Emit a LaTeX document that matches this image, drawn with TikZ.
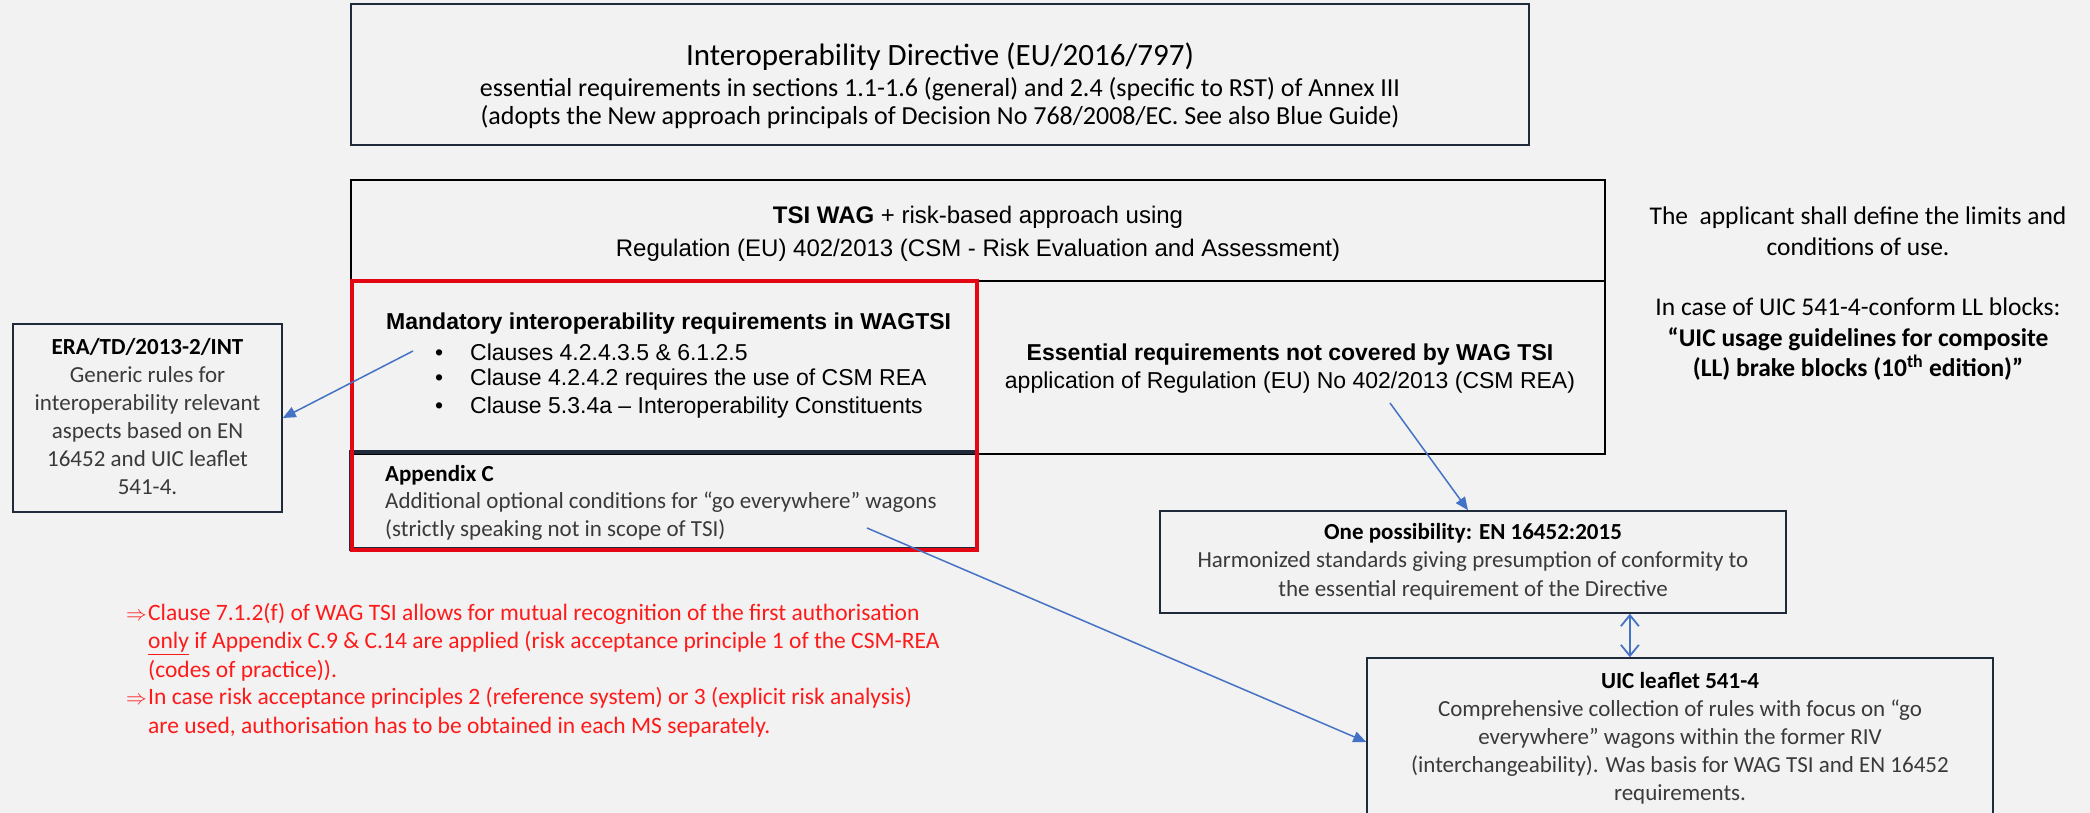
\documentclass[tikz,border=0pt]{standalone}
\usepackage{fontspec}
\setmainfont{Carlito}
\newfontfamily\arialfont{Liberation Sans}
\usetikzlibrary{arrows.meta,calc}
\definecolor{pagebg}{HTML}{F2F2F2}
\definecolor{boxline}{HTML}{1F2A3A}
\definecolor{bodygray}{HTML}{3A3A3A}
\definecolor{markred}{HTML}{E30613}
\definecolor{notered}{HTML}{FF1A1A}
\definecolor{linkblue}{HTML}{4472C4}
\newcommand{\fsz}[2]{\fontsize{#1}{#2}\selectfont}
\newcommand{\thenmark}{\makebox[22pt][l]{\fsz{21}{21}$\Rightarrow$}}
\begin{document}
\begin{tikzpicture}[x=1pt,y=-1pt,
  frame/.style={draw=boxline,line width=1.5pt,inner sep=0pt},
  txt/.style={inner sep=0pt,align=center,font=\fsz{23}{28}},
  link/.style={linkblue,line width=1.5pt,-{Triangle[length=13pt,width=11pt]}},
  twoway/.style={linkblue,line width=1.8pt,{Straight Barb[length=11pt,width=18pt]}-{Straight Barb[length=11pt,width=18pt]}}]
\useasboundingbox (0,0) rectangle (2090,813);
\fill[pagebg] (0,0) rectangle (2090,813);

\node[frame,line width=2pt,minimum width=1178,minimum height=141] (directive) at (940,74.5) {};
\node[txt,font=\fsz{31}{38}] (dirtitle) at (940,57) {Interoperability Directive (EU/2016/797)};
\node[txt,font=\fsz{26}{28}] (dirsub) at (940,103) {essential requirements in sections 1.1-1.6 (general) and 2.4 (specific to RST) of Annex III\\(adopts the New approach principals of Decision No 768/2008/EC. See also Blue Guide)};

\node[frame,draw=black,line width=2.5pt,minimum width=1254,minimum height=101] (tsihead) at (978,230.5) {};
\node[txt,font=\arialfont\fsz{24}{33}] (tsitext) at (978,234) {\textbf{TSI WAG} + risk-based approach using\\Regulation (EU) 402/2013 (CSM - Risk Evaluation and Assessment)};
\node[frame,draw=black,line width=1.2pt,minimum width=1254,minimum height=173] (tsilow) at (978,367.5) {};
\node[frame,line width=4pt,minimum width=626,minimum height=97] (appbox) at (664,500.5) {};
\node[frame,draw=markred,line width=4pt,minimum width=625,minimum height=269] (redbox) at (664.5,415.5) {};

\node[anchor=west,inner sep=0pt,font=\arialfont\bfseries\fsz{23}{28}] (mandhead) at (386,324) {Mandatory interoperability requirements in WAGTSI};
\node[anchor=west,inner sep=0pt,font=\arialfont\fsz{23}{28}] (clause1) at (435,352) {\makebox[35pt][l]{\textbullet}Clauses 4.2.4.3.5 \& 6.1.2.5};
\node[anchor=west,inner sep=0pt,font=\arialfont\fsz{23}{28}] (clause2) at (435,380) {\makebox[35pt][l]{\textbullet}Clause 4.2.4.2 requires the use of CSM REA};
\node[anchor=west,inner sep=0pt,font=\arialfont\fsz{23}{28}] (clause3) at (435,408) {\makebox[35pt][l]{\textbullet}Clause 5.3.4a – Interoperability Constituents};
\node[txt,font=\arialfont\fsz{23}{28}] (essential) at (1290,369) {\textbf{Essential requirements not covered by WAG TSI}\\application of Regulation (EU) No 402/2013 (CSM REA)};
\node[anchor=west,inner sep=0pt,align=left,text=bodygray,font=\fsz{23}{27.5}] (apptext) at (385,502.5) {\textcolor{black}{\textbf{Appendix C}}\\Additional optional conditions for “go everywhere” wagons\\(strictly speaking not in scope of TSI)};

\node[frame,minimum width=269,minimum height=188] (erabox) at (147.5,418) {};
\node[txt,text=bodygray,font=\fsz{23}{28}] (eratext) at (147.5,417) {\textcolor{black}{\textbf{ERA/TD/2013-2/INT}}\\Generic rules for\\interoperability relevant\\aspects based on EN\\16452 and UIC leaflet\\541-4.};

\node[txt,font=\fsz{25.5}{31}] (limits) at (1858,231.5) {The\ \ applicant shall define the limits and\\conditions of use.};
\node[txt,font=\fsz{25.5}{30.5}] (llblocks) at (1858,339.5) {In case of UIC 541-4-conform LL blocks:\\\textbf{“UIC usage guidelines for composite}\\\textbf{(LL) brake blocks (10\textsuperscript{th} edition)”}};

\node[frame,minimum width=626,minimum height=102] (possib) at (1473,562) {};
\node[txt,text=bodygray,font=\fsz{23}{28.5}] (possibtext) at (1473,561.5) {\textcolor{black}{\textbf{One possibility: EN 16452:2015}}\\Harmonized standards giving presumption of conformity to\\the essential requirement of the Directive};
\node[frame,minimum width=626,minimum height=168] (uic) at (1680,742) {};
\node[txt,text=bodygray,font=\fsz{23}{28}] (uictext) at (1680,738) {\textcolor{black}{\textbf{UIC leaflet 541-4}}\\Comprehensive collection of rules with focus on “go\\everywhere” wagons within the former RIV\\(interchangeability). Was basis for WAG TSI and EN 16452\\requirements.};

\node[anchor=west,inner sep=0pt,align=left,text=notered,font=\fsz{23.5}{28.5}] (note1) at (126,642) {\thenmark Clause 7.1.2(f) of WAG TSI allows for mutual recognition of the first authorisation\\\hspace*{22pt}\underline{only} if Appendix C.9 \& C.14 are applied (risk acceptance principle 1 of the CSM-REA\\\hspace*{22pt}(codes of practice)).};
\node[anchor=west,inner sep=0pt,align=left,text=notered,font=\fsz{23.5}{28.5}] (note2) at (126,712.5) {\thenmark In case risk acceptance principles 2 (reference system) or 3 (explicit risk analysis)\\\hspace*{22pt}are used, authorisation has to be obtained in each MS separately.};

\coordinate (mandsrc) at (413,351);
\draw[link] (mandsrc) -- (erabox.east);
\coordinate (esssrc) at (1390,403);
\draw[link] (esssrc) -- ([xshift=-5pt]possib.north);
\coordinate (appsrc) at (867,528);
\draw[link] (appsrc) -- (uic.west);
\coordinate (dbltop) at ($(possib.south)!0.5!(possib.south east)$);
\draw[twoway] (dbltop) -- (dbltop |- uic.north);
\end{tikzpicture}
\end{document}
